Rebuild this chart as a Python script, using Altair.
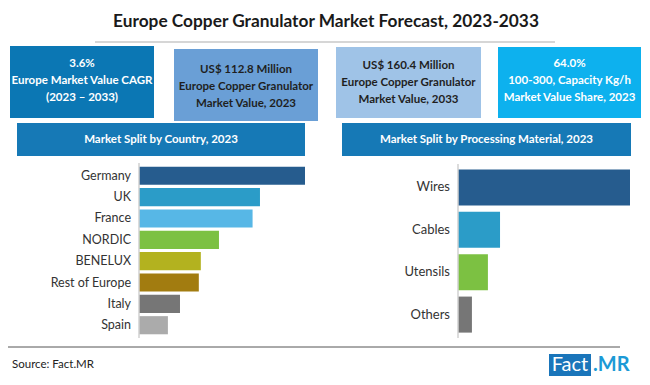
import altair as alt
import pandas as pd

# ---------------- data ----------------
title_text = "Europe Copper Granulator Market Forecast, 2023-2033"

box_lines = [
    ["3.6%", "Europe Market Value CAGR", "(2023 \u2013 2033)"],
    ["US$ 112.8 Million", "Europe Copper Granulator", "Market Value, 2023"],
    ["US$ 160.4 Million", "Europe Copper Granulator", "Market Value, 2033"],
    ["64.0%", "100-300, Capacity Kg/h", "Market Value Share, 2023"],
]
box_colors = ["#0b77b4", "#6a9fd6", "#9fc3e7", "#0db1ee"]
box_text_colors = ["#ffffff", "#1f1f1f", "#1f1f1f", "#ffffff"]

panel_titles = ["Market Split by Country, 2023", "Market Split by Processing Material, 2023"]

countries = ["Germany", "UK", "France", "NORDIC", "BENELUX", "Rest of Europe", "Italy", "Spain"]
country_share = [24.7, 18.0, 16.9, 11.9, 9.2, 8.9, 6.1, 4.3]
country_colors = ["#265c8e", "#2b9cc8", "#57b7e6", "#7cc142", "#b3b21f", "#a27c10", "#767676", "#ababab"]

materials = ["Wires", "Cables", "Utensils", "Others"]
material_share = [66.7, 16.3, 11.6, 5.4]
material_colors = ["#265c8e", "#2b9cc8", "#7cc142", "#767676"]

source_text = "Source: Fact.MR"
logo_parts = ["Fact", ".MR"]

# ---------------- helpers ----------------
O = 8  # page margin
dummy = pd.DataFrame({"a": [0]})
FONT = "Lato"


def rect(x1, y1, x2, y2, color):
    return alt.Chart(dummy).mark_rect(color=color).encode(
        x=alt.value(x1 - O), x2=alt.value(x2 - O),
        y=alt.value(y1 - O), y2=alt.value(y2 - O))


def rule(x1, y1, x2, y2, color, width=1):
    return alt.Chart(dummy).mark_rule(color=color, strokeWidth=width).encode(
        x=alt.value(x1 - O), x2=alt.value(x2 - O),
        y=alt.value(y1 - O), y2=alt.value(y2 - O))


def label(s, x, y, size, color, bold=False, align="center"):
    return alt.Chart(dummy).mark_text(
        text=s, font=FONT, fontSize=size, color=color,
        fontWeight="bold" if bold else "normal", align=align, baseline="middle"
    ).encode(x=alt.value(x - O), y=alt.value(y - O))


def bar_panel(df, cat, cats, colors, vmax, x_px, y_px, label_size):
    yscale = alt.Scale(domain=cats, range=[y_px[0] - O, y_px[1] - O],
                       paddingInner=0.15, paddingOuter=0.08)
    bars = alt.Chart(df).mark_bar().encode(
        y=alt.Y(f"{cat}:N", sort=cats, scale=yscale, axis=None),
        x=alt.X("share:Q", scale=alt.Scale(domain=[0, vmax], range=[x_px[0] - O, x_px[1] - O],
                                           nice=False, zero=True), axis=None),
        color=alt.Color(f"{cat}:N", scale=alt.Scale(domain=cats, range=colors), legend=None),
    )
    texts = alt.Chart(df).mark_text(
        align="right", baseline="middle", font=FONT, fontSize=label_size, color="#333333"
    ).encode(
        y=alt.Y(f"{cat}:N", sort=cats, scale=yscale, axis=None),
        x=alt.value(x_px[0] - 8 - O),
        text=f"{cat}:N",
    )
    axis_line = rule(x_px[0], y_px[0] - 2, x_px[0], y_px[1] + 2, "#d0d0d0", 1.5)
    return [bars, texts, axis_line]


layers = []

# title + underline
layers.append(label(title_text, 326, 22, 17.3, "#1a1a1a", bold=True))
layers.append(rule(95, 42, 555, 42, "#c8c8c8", 1.5))

# KPI boxes
box_x = [(10, 154), (174, 318), (336, 481), (498, 641)]
box_y = [(46, 118), (49, 121), (47, 118), (47, 118)]
line_y = [[64, 81, 98], [70, 87, 104], [66, 83, 100], [64, 81, 98]]
for i in range(4):
    (x1, x2), (y1, y2) = box_x[i], box_y[i]
    layers.append(rect(x1, y1, x2, y2, box_colors[i]))
    for j, s in enumerate(box_lines[i]):
        layers.append(label(s, (x1 + x2) / 2, line_y[i][j], 11.5, box_text_colors[i], bold=True))

# panel headers
hdr_x = [(17, 305), (342, 631)]
for i in range(2):
    x1, x2 = hdr_x[i]
    layers.append(rect(x1, 123, x2, 156, "#1679b6"))
    layers.append(label(panel_titles[i], (x1 + x2) / 2, 140, 11.5, "#ffffff", bold=True))

# bar charts
country_df = pd.DataFrame({"country": countries, "share": country_share})
material_df = pd.DataFrame({"material": materials, "share": material_share})

layers += bar_panel(country_df, "country", countries, country_colors, 24.7,
                    (139, 305), (165, 336), 12.5)
layers += bar_panel(material_df, "material", materials, material_colors, 66.7,
                    (458, 630), (166, 336), 13)

# footer
layers.append(rule(8, 347, 620, 347, "#555555", 1))
layers.append(label(source_text, 12, 365, 11.5, "#222222", align="left"))
layers.append(rect(549, 354, 591, 376, "#1a75ba"))
layers.append(label(logo_parts[0], 570, 365, 20, "#ffffff"))
layers.append(label(logo_parts[1], 593, 365, 20, "#1c9ad6", bold=True, align="left"))

chart = alt.layer(*layers).resolve_scale(
    x="independent", y="independent", color="independent"
).properties(
    width=634, height=369, autosize="none", padding=0, background="#ffffff"
).configure_view(stroke=None)

chart.save("out.html", embed_options={"renderer": "svg", "actions": False})
